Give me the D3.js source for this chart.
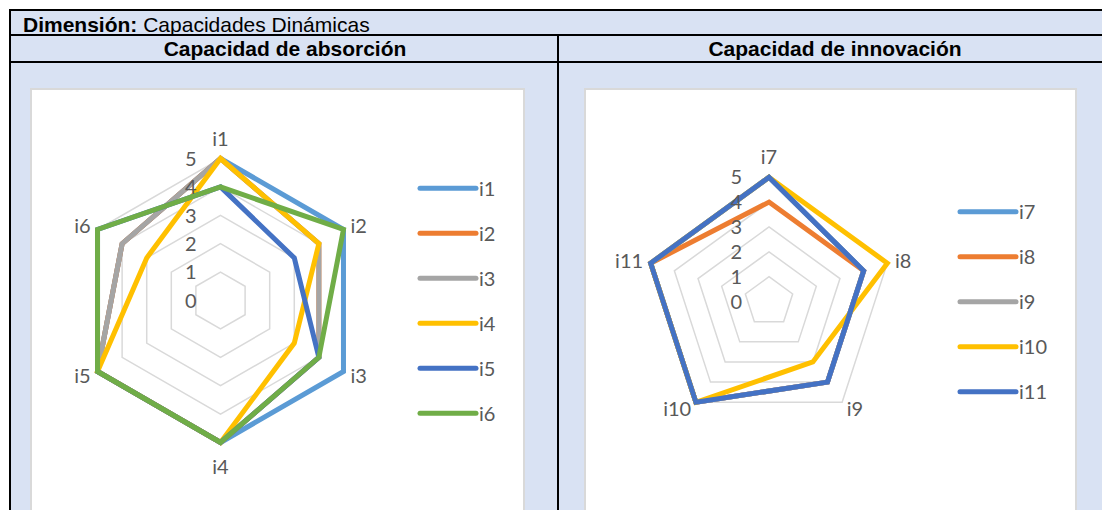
<!DOCTYPE html>
<html>
<head>
<meta charset="utf-8">
<script src="https://cdn.jsdelivr.net/npm/d3@7"></script>
<style>
  body { margin: 0; background: #fff; }
  svg { display: block; }
</style>
</head>
<body>
<div id="page"></div>
<script>
// Capacidad de absorcion (6 axes, 6 series)
const absorcionAxes = ["i1", "i2", "i3", "i4", "i5", "i6"];
const absorcionSeries = ["i1", "i2", "i3", "i4", "i5", "i6"];
const absI1 = [5, 5, 5, 5, 5, 4];
const absI2 = [5, 4, 4, 5, 5, 4];
const absI3 = [5, 4, 4, 5, 5, 4];
const absI4 = [5, 4, 3, 5, 5, 3];
const absI5 = [4, 3, 4, 5, 5, 5];
const absI6 = [4, 5, 4, 5, 5, 5];

// Capacidad de innovacion (5 axes, 5 series)
const innovacionAxes = ["i7", "i8", "i9", "i10", "i11"];
const innovacionSeries = ["i7", "i8", "i9", "i10", "i11"];
const innI7 = [5, 4, 4, 5, 5];
const innI8 = [4, 4, 4, 5, 5];
const innI9 = [5, 4, 4, 5, 5];
const innI10 = [5, 5, 3, 5, 5];
const innI11 = [5, 4, 4, 5, 5];

const radarTicks = [0, 1, 2, 3, 4, 5];

const seriesColors = ["#5B9BD5", "#ED7D31", "#A5A5A5", "#FFC000", "#4472C4", "#70AD47"];

const W = 1102, H = 510;
const svg = d3.select("#page").append("svg")
    .attr("width", W)
    .attr("height", H);

// table background + cells
svg.append("rect").attr("x", 10).attr("y", 10).attr("width", W - 10).attr("height", H - 10)
    .attr("fill", "#D9E2F3");

// white chart boxes
svg.append("rect").attr("x", 31).attr("y", 89).attr("width", 493).attr("height", 460)
    .attr("fill", "#fff").attr("stroke", "#D9D9D9").attr("stroke-width", 2);
svg.append("rect").attr("x", 585).attr("y", 89).attr("width", 491).attr("height", 460)
    .attr("fill", "#fff").attr("stroke", "#D9D9D9").attr("stroke-width", 2);

// table borders
const border = svg.append("g").attr("stroke", "#000").attr("stroke-width", 2);
border.append("line").attr("x1", 9).attr("x2", W).attr("y1", 10).attr("y2", 10);
border.append("line").attr("x1", 9).attr("x2", W).attr("y1", 35).attr("y2", 35);
border.append("line").attr("x1", 9).attr("x2", W).attr("y1", 62).attr("y2", 62);
border.append("line").attr("x1", 10).attr("x2", 10).attr("y1", 9).attr("y2", H);
border.append("line").attr("x1", 558).attr("x2", 558).attr("y1", 35).attr("y2", H);

// header texts
const head = svg.append("text")
    .attr("x", 23).attr("y", 32)
    .attr("font-family", "Liberation Sans, Arial, sans-serif")
    .attr("font-size", 21)
    .attr("fill", "#000");
head.append("tspan").attr("font-weight", "bold").text("Dimensión:");
head.append("tspan").text(" Capacidades Dinámicas");

svg.append("text")
    .attr("x", 285).attr("y", 56)
    .attr("text-anchor", "middle")
    .attr("font-family", "Liberation Sans, Arial, sans-serif")
    .attr("font-size", 21).attr("font-weight", "bold")
    .text("Capacidad de absorción");

svg.append("text")
    .attr("x", 835).attr("y", 56)
    .attr("text-anchor", "middle")
    .attr("font-family", "Liberation Sans, Arial, sans-serif")
    .attr("font-size", 21).attr("font-weight", "bold")
    .text("Capacidad de innovación");

function renderRadar(opts) {
    const { cx, cy, R, axes, names, values, legendX, legendY, tickX } = opts;
    const g = svg.append("g")
        .attr("font-family", "Lato, Calibri, sans-serif")
        .attr("font-size", 20)
        .attr("fill", "#595959");

    const r = d3.scaleLinear().domain([0, 5]).range([0, R]);
    const angle = d3.scaleLinear().domain([0, axes.length]).range([0, 2 * Math.PI]);

    const radial = d3.lineRadial()
        .angle((d, i) => angle(i))
        .radius(d => r(d))
        .curve(d3.curveLinearClosed);

    const plot = g.append("g").attr("transform", `translate(${cx},${cy})`);

    // grid rings
    plot.selectAll(".ring")
        .data(radarTicks.filter(t => t > 0))
        .enter()
        .append("path")
        .attr("class", "ring")
        .attr("d", t => radial(axes.map(() => t)))
        .attr("fill", "none")
        .attr("stroke", "#D9D9D9")
        .attr("stroke-width", 1.5);

    // series
    plot.selectAll(".series")
        .data(values)
        .enter()
        .append("path")
        .attr("class", "series")
        .attr("d", d => radial(d))
        .attr("fill", "none")
        .attr("stroke", (d, i) => seriesColors[i])
        .attr("stroke-width", 5)
        .attr("stroke-linejoin", "miter");

    // tick labels
    plot.selectAll(".tick")
        .data(radarTicks)
        .enter()
        .append("text")
        .attr("x", tickX)
        .attr("y", t => -r(t))
        .attr("dy", "0.36em")
        .attr("text-anchor", "end")
        .text(t => t);

    // axis labels
    plot.selectAll(".axisLabel")
        .data(axes)
        .enter()
        .append("text")
        .each(function(name, i) {
            const a = angle(i);
            const s = Math.sin(a), c = Math.cos(a);
            const lr = R + 8;
            let x = lr * s, y = -lr * c;
            let anchor = "middle";
            if (Math.abs(s) < 0.1) {
                y += c > 0 ? -12 : 16;
            } else {
                anchor = s > 0 ? "start" : "end";
            }
            d3.select(this)
                .attr("x", x).attr("y", y)
                .attr("dy", "0.36em")
                .attr("text-anchor", anchor)
                .text(name);
        });

    // legend
    const legend = g.selectAll(".legend")
        .data(names)
        .enter()
        .append("g")
        .attr("transform", (d, i) => `translate(${legendX},${legendY + i * 45})`);
    legend.append("line")
        .attr("x1", 0).attr("x2", 56)
        .attr("stroke", (d, i) => seriesColors[i])
        .attr("stroke-width", 5)
        .attr("stroke-linecap", "round");
    legend.append("text")
        .attr("x", 59)
        .attr("dy", "0.36em")
        .text(d => d);
}

renderRadar({
    cx: 220.5, cy: 300.5, R: 142,
    axes: absorcionAxes, names: absorcionSeries,
    values: [absI1, absI2, absI3, absI4, absI5, absI6],
    legendX: 420, legendY: 188.3, tickX: -24
});

renderRadar({
    cx: 769, cy: 301.6, R: 124.4,
    axes: innovacionAxes, names: innovacionSeries,
    values: [innI7, innI8, innI9, innI10, innI11],
    legendX: 960, legendY: 211.7, tickX: -27
});
</script>
</body>
</html>
